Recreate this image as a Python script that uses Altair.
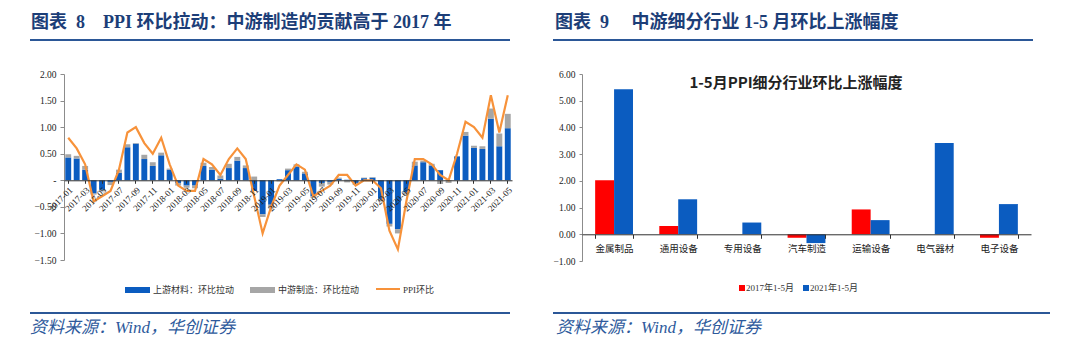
import altair as alt
import pandas as pd

# ---------------- data: left chart ----------------
months = [f"{y}-{m:02d}" for y in range(2017, 2022) for m in range(1, 13)][:53]
tick_months = months[::2]
upstream = [0.43, 0.41, 0.20, -0.25, -0.18, -0.03, 0.14, 0.62, 0.69, 0.40, 0.27, 0.47,
            0.20, -0.05, -0.10, -0.10, 0.27, 0.20, 0.03, 0.23, 0.37, 0.23, -0.20, -0.64,
            -0.46, 0.02, 0.19, 0.26, 0.13, -0.30, -0.05, -0.03, 0.03, 0.01, -0.05, 0.04,
            0.05, -0.35, -0.82, -0.92, -0.22, 0.28, 0.34, 0.28, 0.19, 0.00, 0.45, 0.84,
            0.61, 0.59, 1.16, 0.64, 0.98]
midstream = [0.06, 0.05, 0.07, -0.02, -0.03, -0.06, 0.06, 0.06, 0.01, 0.08, 0.07, 0.05,
             0.02, -0.05, -0.04, -0.05, 0.06, 0.05, 0.06, 0.08, 0.07, 0.05, 0.07, -0.05,
             -0.07, -0.02, 0.03, 0.04, 0.03, -0.03, -0.07, -0.05, 0.02, -0.04, -0.04, 0.01,
             0.01, -0.05, -0.05, -0.08, -0.05, 0.07, 0.03, 0.03, -0.07, -0.05, 0.00, 0.07,
             0.04, 0.05, 0.19, 0.24, 0.27]
ppi = [0.8, 0.6, 0.3, -0.4, -0.3, -0.2, 0.2, 0.9, 1.0, 0.7, 0.5, 0.8,
       0.3, -0.1, -0.2, -0.2, 0.4, 0.3, 0.1, 0.4, 0.6, 0.4, -0.3, -1.0,
       -0.5, -0.1, 0.1, 0.3, 0.2, -0.3, -0.2, -0.1, 0.1, 0.1, -0.1, 0.0,
       0.0, -0.15, -0.95, -1.3, -0.4, 0.4, 0.4, 0.3, 0.1, 0.0, 0.5, 1.1,
       1.0, 0.8, 1.6, 0.9, 1.6]
bar_series = ["上游材料：环比拉动", "中游制造：环比拉动"]
line_series = "PPI环比"
left_ticks = [-1.5, -1.0, -0.5, 0.0, 0.5, 1.0, 1.5, 2.0]

# ---------------- data: right chart ----------------
industries = ["金属制品", "通用设备", "专用设备", "汽车制造", "运输设备", "电气器材", "电子设备"]
v2017 = [2.02, 0.31, 0.00, -0.13, 0.93, 0.00, -0.13]
v2021 = [5.43, 1.31, 0.44, -0.33, 0.53, 3.42, 1.13]
periods = ["2017年1-5月", "2021年1-5月"]
right_ticks = [-1, 0, 1, 2, 3, 4, 5, 6]

title_left = "图表\u00a0\u00a08\u00a0\u00a0\u00a0\u00a0PPI\u00a0环比拉动：中游制造的贡献高于\u00a02017\u00a0年"
title_right = "图表\u00a0\u00a09\u00a0\u00a0\u00a0\u00a0\u00a0中游细分行业\u00a01-5\u00a0月环比上涨幅度"
inner_title = "1-5月PPI细分行业环比上涨幅度"
source_text = "资料来源：Wind，华创证券"

SERIF = "'Liberation Serif', 'Noto Sans CJK SC'"
CJK = "'Noto Sans CJK SC'"
NAVY = "#1C3E78"
LINEBLUE = "#2B5797"
SRCBLUE = "#2E5A9C"
BLUE = "#0B5CC0"
GRAY = "#A6A6A6"
ORANGE = "#F7923A"
RED = "#FF0000"

one = pd.DataFrame({"a": [0]})


def txt(s, x, y, size, color="#000000", weight="normal", style="normal", font=SERIF, align="left"):
    return alt.Chart(pd.DataFrame({"t": [s]})).mark_text(
        align=align, baseline="middle", fontSize=size, fontWeight=weight,
        fontStyle=style, font=font, color=color
    ).encode(x=alt.value(x), y=alt.value(y), text="t:N")


def hline(x1, x2, y, color, w):
    return alt.Chart(one).mark_rule(color=color, strokeWidth=w).encode(
        x=alt.value(x1), x2=alt.value(x2), y=alt.value(y))


def box(x1, x2, y1, y2, color):
    return alt.Chart(one).mark_rect(color=color, strokeWidth=0).encode(
        x=alt.value(x1), x2=alt.value(x2), y=alt.value(y1), y2=alt.value(y2))


# ---------------- left panel ----------------
W1, H1 = 448, 186
zero1 = H1 * 2.0 / 3.5

bars_df = pd.DataFrame({
    "month": months * 2,
    "series": [bar_series[0]] * len(months) + [bar_series[1]] * len(months),
    "ord": [0] * len(months) + [1] * len(months),
    "value": upstream + midstream,
})
line_df = pd.DataFrame({"month": months, "ppi": ppi})

x_axis_L = alt.Axis(values=tick_months, labelAngle=315, offset=-(H1 - zero1),
                    domainColor="#303030", tickColor="#303030", tickSize=3,
                    labelFont=SERIF, labelFontSize=9, labelColor="#222222",
                    labelPadding=2, labelOverlap=False, zindex=1)
y_axis_L = alt.Axis(values=left_ticks, grid=False, domainColor="#8C8C8C",
                    tickColor="#8C8C8C", tickSize=4, labelPadding=4,
                    labelFont=SERIF, labelFontSize=9.5, labelColor="#222222",
                    labelOverlap=False, labelBound=False, labelFlush=False,
                    labelExpr="datum.value == 0 ? '-' : format(datum.value, '.2f')")
x_scale_L = alt.Scale(paddingInner=0.3, paddingOuter=0.15)
yscale1 = alt.Scale(domain=[-1.5, 2.0], nice=False, zero=False)

bars = alt.Chart(bars_df).mark_bar().encode(
    x=alt.X("month:N", sort=months, title=None, scale=x_scale_L, axis=x_axis_L),
    y=alt.Y("value:Q", stack="zero", scale=yscale1, title=None, axis=y_axis_L),
    color=alt.Color("series:N", scale=alt.Scale(domain=bar_series, range=[BLUE, GRAY]), legend=None),
    order=alt.Order("ord:Q"),
)
ppi_line = alt.Chart(line_df).mark_line(color=ORANGE, strokeWidth=2.2).encode(
    x=alt.X("month:N", sort=months, title=None, scale=x_scale_L, axis=x_axis_L),
    y=alt.Y("ppi:Q", scale=yscale1, title=None, axis=y_axis_L),
)

left = alt.layer(
    box(-56, 476, -66, -65, "#FFFFFF"),
    bars, ppi_line,
    txt(title_left, -33, -51, 18, NAVY, "bold"),
    hline(-34, 446, -34, LINEBLUE, 2),
    box(61, 86, 213, 219, BLUE),
    txt(bar_series[0], 89, 216, 9, "#333333", font=CJK),
    box(186, 211, 213, 219, GRAY),
    txt(bar_series[1], 214, 216, 9, "#333333", font=CJK),
    hline(312, 336, 215, ORANGE, 2),
    txt(line_series, 339, 216, 9, "#333333", font=SERIF),
    hline(-34, 446, 239, LINEBLUE, 2),
    txt(source_text, -34, 254, 17, SRCBLUE, style="italic"),
).properties(width=W1, height=H1)

# ---------------- right panel ----------------
W2, H2 = 449, 187
zero2 = H2 * 6.0 / 7.0

ind_df = pd.DataFrame({
    "cat": industries * 2,
    "period": [periods[0]] * len(industries) + [periods[1]] * len(industries),
    "value": v2017 + v2021,
})

ind_bars = alt.Chart(ind_df).mark_bar().encode(
    x=alt.X("cat:N", sort=industries, title=None,
            scale=alt.Scale(paddingInner=0.41, paddingOuter=0.205),
            axis=alt.Axis(labelAngle=0, tickBand="extent", offset=-(H2 - zero2),
                          domainColor="#303030", tickColor="#303030", tickSize=4,
                          labelFont=CJK, labelFontSize=9.5, labelColor="#222222",
                          labelPadding=5, labelOverlap=False, zindex=1)),
    xOffset=alt.XOffset("period:N", sort=periods),
    y=alt.Y("value:Q", scale=alt.Scale(domain=[-1, 6], nice=False), title=None,
            axis=alt.Axis(values=right_ticks, grid=False, format=".2f",
                          domainColor="#8C8C8C", tickColor="#8C8C8C", tickSize=3,
                          labelPadding=4, labelFont=SERIF, labelFontSize=9.5,
                          labelColor="#222222", labelOverlap=False)),
    color=alt.Color("period:N", scale=alt.Scale(domain=periods, range=[RED, BLUE]), legend=None),
)

right = alt.layer(
    box(-42, 490, -66, -65, "#FFFFFF"),
    ind_bars,
    txt(title_right, -27, -51, 18, NAVY, "bold"),
    hline(-29, 451, -34, LINEBLUE, 2),
    txt(inner_title, 214, 9, 15, "#222222", "bold", font=CJK, align="center"),
    box(157, 163, 211, 217, RED),
    txt(periods[0], 164, 214, 9, "#333333"),
    box(221, 227, 211, 217, BLUE),
    txt(periods[1], 228, 214, 9, "#333333"),
    hline(-29, 468, 239, LINEBLUE, 2),
    txt(source_text, -26, 254, 17, SRCBLUE, style="italic"),
).properties(width=W2, height=H2)

chart = alt.hconcat(left, right, spacing=0).resolve_scale(
    color="independent", x="independent", y="independent", xOffset="independent"
).properties(
    padding={"left": 0, "top": 0, "right": 0, "bottom": 0},
    background="#FFFFFF",
).configure_view(stroke=None)

chart.save("out.html", embed_options={"renderer": "svg", "actions": False})
